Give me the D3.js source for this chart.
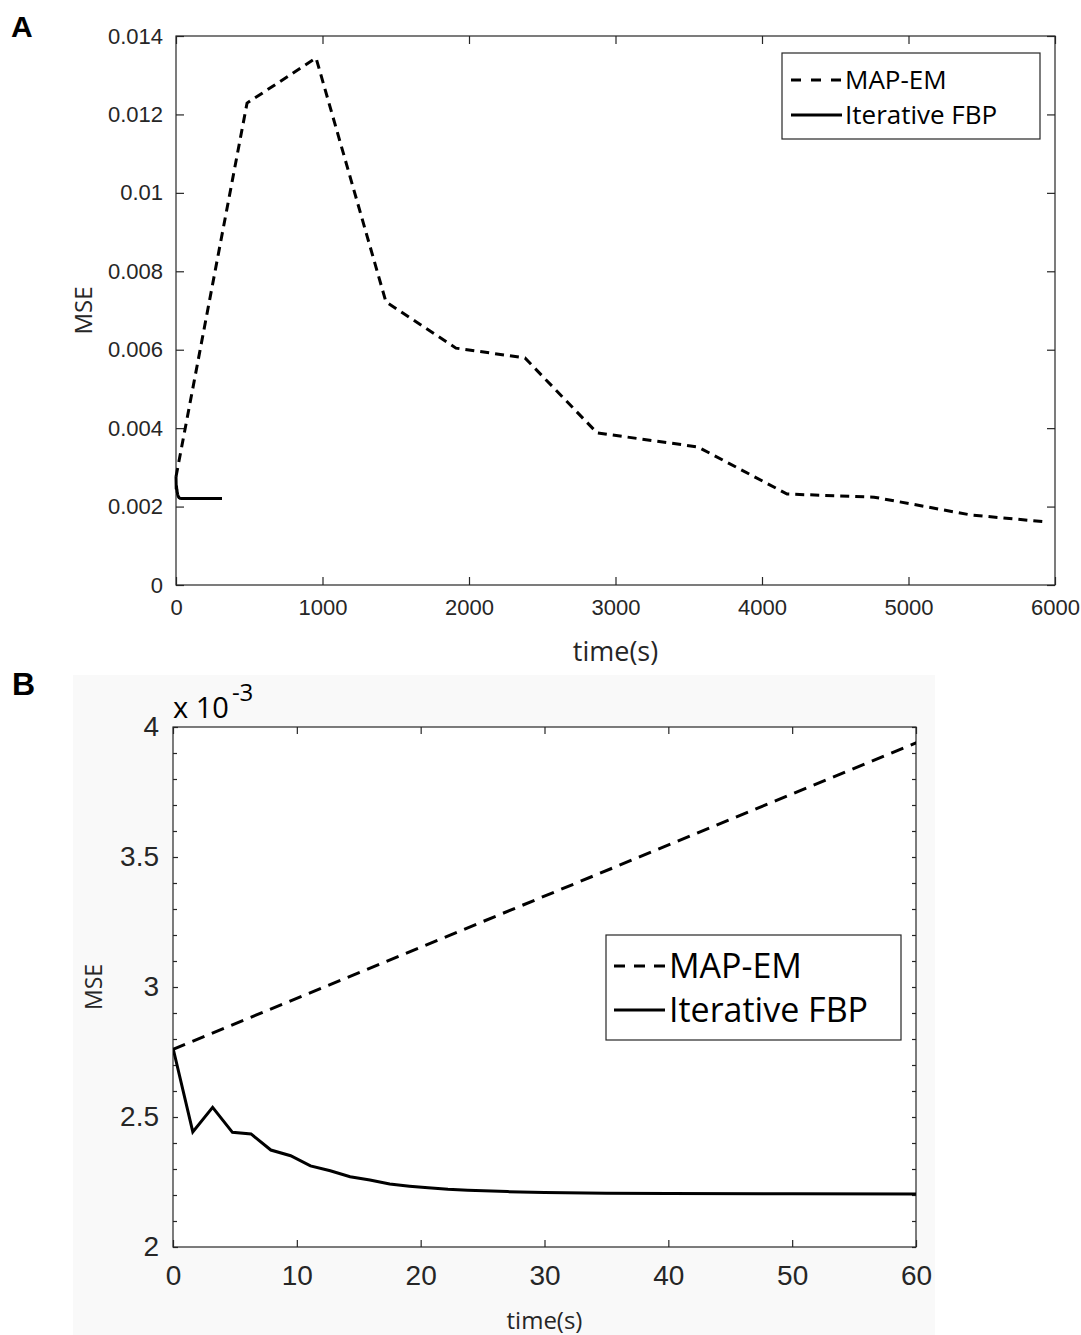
<!doctype html>
<html lang="en">
<head>
<meta charset="utf-8">
<title>MSE vs time</title>
<style>
  body { margin: 0; background: #fff; }
  svg { display: block; font-family: "Open Sans", "Noto Sans", sans-serif; }
  .frame { fill: none; stroke: #262626; stroke-width: 1.2; }
  .tick line { stroke: #262626; stroke-width: 1.2; }
  .domain { display: none; }
  .tick text { fill: #262626; }
</style>
</head>
<body>
<div id="chart"></div>
<script src="https://d3js.org/d3.v7.min.js"></script>
<script>
// MAP-EM, time in seconds and MSE
var mapTime = [0, 485, 956, 1433, 1911, 2382, 2874, 3563, 4171, 4765, 5420, 5932];
var mapMse = [0.00276, 0.01229, 0.01344, 0.00722, 0.00604, 0.00579, 0.00388, 0.00352, 0.00232, 0.00224, 0.00179, 0.00161];

// Iterative FBP
var fbpTime = [0, 1.6, 3.2, 4.8, 6.3, 7.9, 9.5, 11.1, 12.7, 14.3, 15.9, 17.5, 19.1, 20.6, 22.2, 23.8, 27, 30, 35, 40, 50, 60, 100, 200, 314];
var fbpMse = [0.002765, 0.002443, 0.002537, 0.002441, 0.002435, 0.002373, 0.002351, 0.002312, 0.002293, 0.00227, 0.002258, 0.002242,
              0.002234, 0.002228, 0.002222, 0.002218, 0.002213, 0.00221, 0.002207, 0.002206, 0.002205, 0.002204, 0.002203, 0.002203, 0.002203];

var seriesNames = ["MAP-EM", "Iterative FBP"];

// ticks
var xTicksA = [0, 1000, 2000, 3000, 4000, 5000, 6000];
var yTicksA = [0, 0.002, 0.004, 0.006, 0.008, 0.01, 0.012, 0.014];
var xTicksB = [0, 10, 20, 30, 40, 50, 60];
var yTicksB = [2, 2.5, 3, 3.5, 4];          // x 10^-3
var yMinorB = [2.1, 2.2, 2.3, 2.4, 2.6, 2.7, 2.8, 2.9, 3.1, 3.2, 3.3, 3.4, 3.6, 3.7, 3.8, 3.9];

var W = 1081, H = 1335;
var svg = d3.select("#chart").append("svg").attr("width", W).attr("height", H);

var mapData = mapTime.map(function(t, i) { return { t: t, v: mapMse[i] }; });
var fbpData = fbpTime.map(function(t, i) { return { t: t, v: fbpMse[i] }; });

// ---------- panel A ----------
var A = { l: 176, r: 1055, t: 36, b: 585 };
var xA = d3.scaleLinear().domain([0, 6000]).range([A.l, A.r]);
var yA = d3.scaleLinear().domain([0, 0.014]).range([A.b, A.t]);

svg.append("text").attr("x", 11).attr("y", 37).text("A")
  .style("font-family", "'Liberation Sans', Arial, sans-serif").style("font-weight", "bold").style("font-size", "30px");

var gA = svg.append("g");
gA.append("g").attr("transform", "translate(0," + A.b + ")")
  .call(d3.axisBottom(xA).tickValues(xTicksA).tickSizeInner(-8).tickSizeOuter(0).tickPadding(14).tickFormat(d3.format("d")))
  .selectAll("text").style("font-size", "22px");
gA.append("g").attr("transform", "translate(0," + A.t + ")")
  .call(d3.axisTop(xA).tickValues(xTicksA).tickSizeInner(-8).tickSizeOuter(0).tickFormat(""));
gA.append("g").attr("transform", "translate(" + A.l + ",0)")
  .call(d3.axisLeft(yA).tickValues(yTicksA).tickSizeInner(-8).tickSizeOuter(0).tickPadding(13).tickFormat(function(d) { return d === 0 ? "0" : d3.format("")(+d.toFixed(3)); }))
  .selectAll("text").style("font-size", "22px");
gA.append("g").attr("transform", "translate(" + A.r + ",0)")
  .call(d3.axisRight(yA).tickValues(yTicksA).tickSizeInner(-8).tickSizeOuter(0).tickFormat(""));
gA.append("rect").attr("class", "frame").attr("x", A.l).attr("y", A.t).attr("width", A.r - A.l).attr("height", A.b - A.t);

var lineA = d3.line().x(function(d) { return xA(d.t); }).y(function(d) { return yA(d.v); });
gA.append("path").datum(mapData).attr("d", lineA)
  .attr("fill", "none").attr("stroke", "#000").attr("stroke-width", 3).attr("stroke-dasharray", "9,6");
gA.append("path").datum(fbpData).attr("d", lineA)
  .attr("fill", "none").attr("stroke", "#000").attr("stroke-width", 3);

gA.append("text").attr("x", (A.l + A.r) / 2).attr("y", 661).attr("text-anchor", "middle")
  .style("font-size", "27px").attr("fill", "#262626").text("time(s)");
gA.append("text").attr("transform", "translate(92," + ((A.t + A.b) / 2) + ") rotate(-90)")
  .attr("text-anchor", "middle").style("font-size", "24px").attr("fill", "#262626").text("MSE");

// legend A
var legA = gA.append("g").attr("transform", "translate(782,53)");
legA.append("rect").attr("width", 258).attr("height", 86).attr("fill", "#fff").attr("stroke", "#262626").attr("stroke-width", 1.2);
seriesNames.forEach(function(name, i) {
  var y = 27 + i * 35;
  legA.append("line").attr("x1", 9).attr("x2", 60).attr("y1", y).attr("y2", y)
    .attr("stroke", "#000").attr("stroke-width", 3).attr("stroke-dasharray", i === 0 ? "10,10" : null);
  legA.append("text").attr("x", 63).attr("y", y + 9).style("font-size", "26px").attr("fill", "#000").text(name);
});

// ---------- panel B ----------
svg.append("rect").attr("x", 73).attr("y", 675).attr("width", 862).attr("height", 660).attr("fill", "#f9f9f9");

var B = { l: 173, r: 916, t: 727, b: 1247 };
var xB = d3.scaleLinear().domain([0, 60]).range([B.l, B.r]);
var yB = d3.scaleLinear().domain([2, 4]).range([B.b, B.t]);

svg.append("text").attr("x", 12).attr("y", 695).text("B")
  .style("font-family", "'Liberation Sans', Arial, sans-serif").style("font-weight", "bold").style("font-size", "32px");

var gB = svg.append("g");
gB.append("rect").attr("x", B.l).attr("y", B.t).attr("width", B.r - B.l).attr("height", B.b - B.t).attr("fill", "#fff");

svg.append("clipPath").attr("id", "clipB").append("rect")
  .attr("x", B.l).attr("y", B.t).attr("width", B.r - B.l).attr("height", B.b - B.t);

gB.append("g").attr("transform", "translate(0," + B.b + ")")
  .call(d3.axisBottom(xB).tickValues(xTicksB).tickSizeInner(-7).tickSizeOuter(0).tickPadding(18).tickFormat(d3.format("d")))
  .selectAll("text").style("font-size", "28px");
gB.append("g").attr("transform", "translate(0," + B.t + ")")
  .call(d3.axisTop(xB).tickValues(xTicksB).tickSizeInner(-7).tickSizeOuter(0).tickFormat(""));
gB.append("g").attr("transform", "translate(" + B.l + ",0)")
  .call(d3.axisLeft(yB).tickValues(yTicksB).tickSizeInner(-5).tickSizeOuter(0).tickPadding(14).tickFormat(d3.format("")))
  .selectAll("text").style("font-size", "28px");
gB.append("g").attr("transform", "translate(" + B.l + ",0)")
  .call(d3.axisLeft(yB).tickValues(yMinorB).tickSizeInner(-4).tickSizeOuter(0).tickFormat(""));
gB.append("g").attr("transform", "translate(" + B.r + ",0)")
  .call(d3.axisRight(yB).tickValues(yTicksB.concat(yMinorB)).tickSizeInner(-4).tickSizeOuter(0).tickFormat(""));
gB.append("rect").attr("class", "frame").attr("x", B.l).attr("y", B.t).attr("width", B.r - B.l).attr("height", B.b - B.t);

var lineB = d3.line().x(function(d) { return xB(d.t); }).y(function(d) { return yB(d.v * 1000); });
var plotB = gB.append("g").attr("clip-path", "url(#clipB)");
plotB.append("path").datum(mapData).attr("d", lineB)
  .attr("fill", "none").attr("stroke", "#000").attr("stroke-width", 3).attr("stroke-dasharray", "13,8");
plotB.append("path").datum(fbpData).attr("d", lineB)
  .attr("fill", "none").attr("stroke", "#000").attr("stroke-width", 3);

// exponent label
var ex = gB.append("text").attr("x", 173).attr("y", 718).attr("fill", "#000").style("font-size", "29px");
ex.append("tspan").text("x 10");
ex.append("tspan").attr("dx", 3).attr("dy", -17).style("font-size", "24px").text("-3");

gB.append("text").attr("x", (B.l + B.r) / 2).attr("y", 1329).attr("text-anchor", "middle")
  .style("font-size", "24px").attr("fill", "#262626").text("time(s)");
gB.append("text").attr("transform", "translate(102," + ((B.t + B.b) / 2) + ") rotate(-90)")
  .attr("text-anchor", "middle").style("font-size", "23px").attr("fill", "#262626").text("MSE");

// legend B
var legB = gB.append("g").attr("transform", "translate(606,935)");
legB.append("rect").attr("width", 295).attr("height", 105).attr("fill", "#fff").attr("stroke", "#262626").attr("stroke-width", 1.2);
seriesNames.forEach(function(name, i) {
  var y = 31 + i * 44;
  legB.append("line").attr("x1", 8).attr("x2", 59).attr("y1", y).attr("y2", y)
    .attr("stroke", "#000").attr("stroke-width", 3).attr("stroke-dasharray", i === 0 ? "11,9" : null);
  legB.append("text").attr("x", 63).attr("y", y + 12).style("font-size", "34px").attr("fill", "#000").text(name);
});
</script>
</body>
</html>
